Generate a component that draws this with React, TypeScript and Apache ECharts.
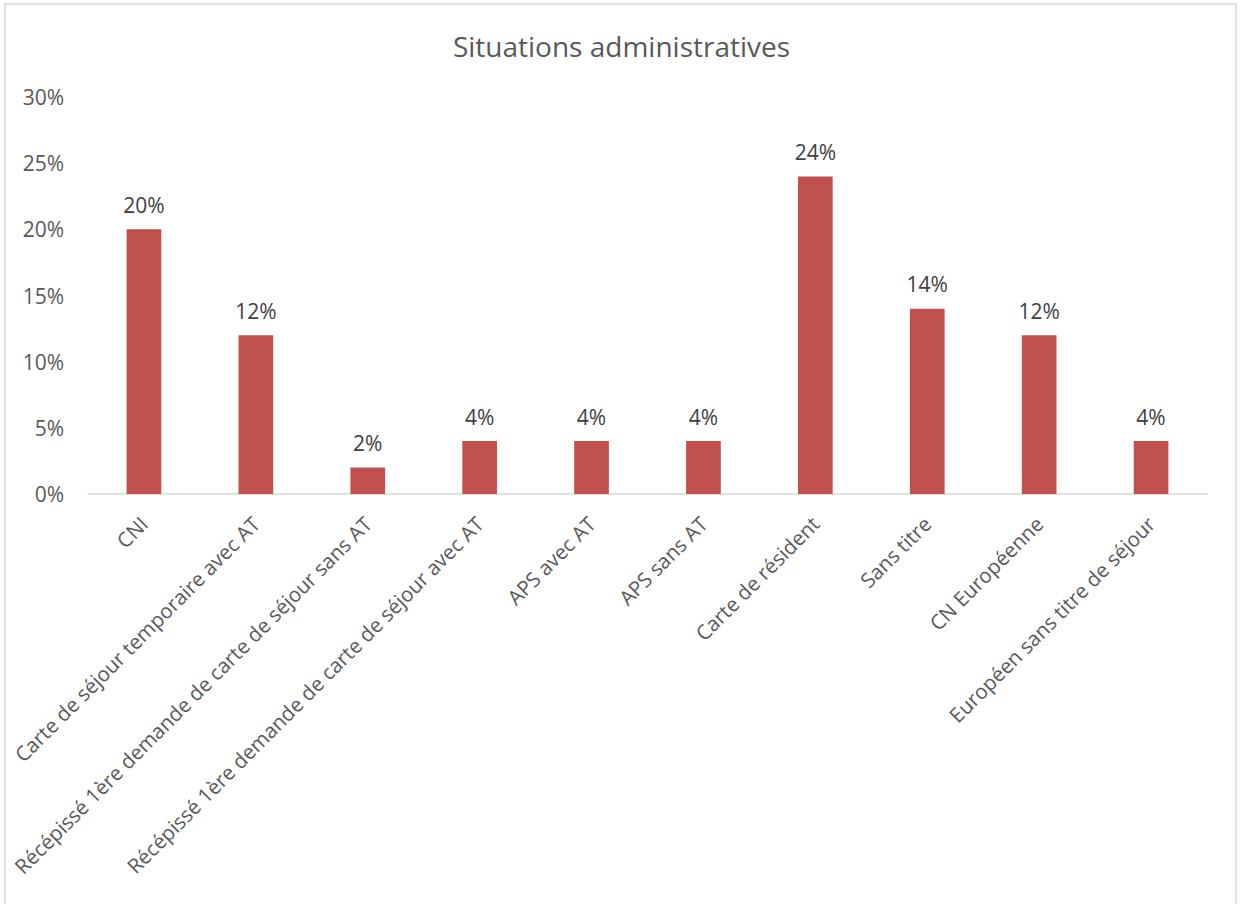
import React, { useEffect, useRef } from "react";
import * as echarts from "echarts";

const categories = [
  "CNI",
  "Carte de séjour temporaire avec AT",
  "Récépissé 1ère demande de carte de séjour sans AT",
  "Récépissé 1ère demande de carte de séjour avec AT",
  "APS avec AT",
  "APS sans AT",
  "Carte de résident",
  "Sans titre",
  "CN Européenne",
  "Européen sans titre de séjour",
];
const values = [20, 12, 2, 4, 4, 4, 24, 14, 12, 4];
const yMax = 30;
const yInterval = 5;

const FONT = "'Open Sans', sans-serif";

export default function App() {
  const ref = useRef<HTMLDivElement>(null);
  useEffect(() => {
    if (!ref.current) return;
    const chart = echarts.init(ref.current, undefined, { renderer: "svg" });
    chart.setOption({
      animation: false,
      backgroundColor: "#ffffff",
      title: {
        text: "Situations administratives",
        left: "center",
        top: 27,
        textStyle: { fontFamily: FONT, fontSize: 28, fontWeight: "normal", color: "#595959" },
      },
      graphic: [
        {
          type: "rect",
          shape: { x: 5, y: 4, width: 1231, height: 920 },
          style: { fill: "none", stroke: "#d9d9d9", lineWidth: 1.5 },
          silent: true,
        },
      ],
      grid: {
        left: 88,
        right: 36,
        top: 97,
        bottom: 410,
        containLabel: false,
        outerBoundsMode: "none",
      },
      xAxis: {
        type: "category",
        data: categories,
        axisLine: { show: true, lineStyle: { color: "#d9d9d9", width: 1.5 } },
        axisTick: { show: false },
        axisLabel: {
          interval: 0,
          rotate: 45,
          margin: 26,
          fontFamily: FONT,
          fontSize: 20.5,
          color: "#595959",
        },
      },
      yAxis: {
        type: "value",
        min: 0,
        max: yMax,
        interval: yInterval,
        axisLine: { show: false },
        axisTick: { show: false },
        splitLine: { show: false },
        axisLabel: {
          formatter: "{value}%",
          margin: 24,
          fontFamily: FONT,
          fontSize: 21,
          color: "#595959",
        },
      },
      series: [
        {
          type: "bar",
          data: values,
          barWidth: "31%",
          itemStyle: { color: "#c0504d" },
          label: {
            show: true,
            position: "top",
            distance: 14,
            formatter: "{c}%",
            fontFamily: FONT,
            fontSize: 21,
            color: "#404040",
          },
        },
      ],
    });
    return () => chart.dispose();
  }, []);
  return (
    <div
      ref={ref}
      style={{ position: "fixed", left: 0, top: 0, width: 1243, height: 904 }}
    />
  );
}
